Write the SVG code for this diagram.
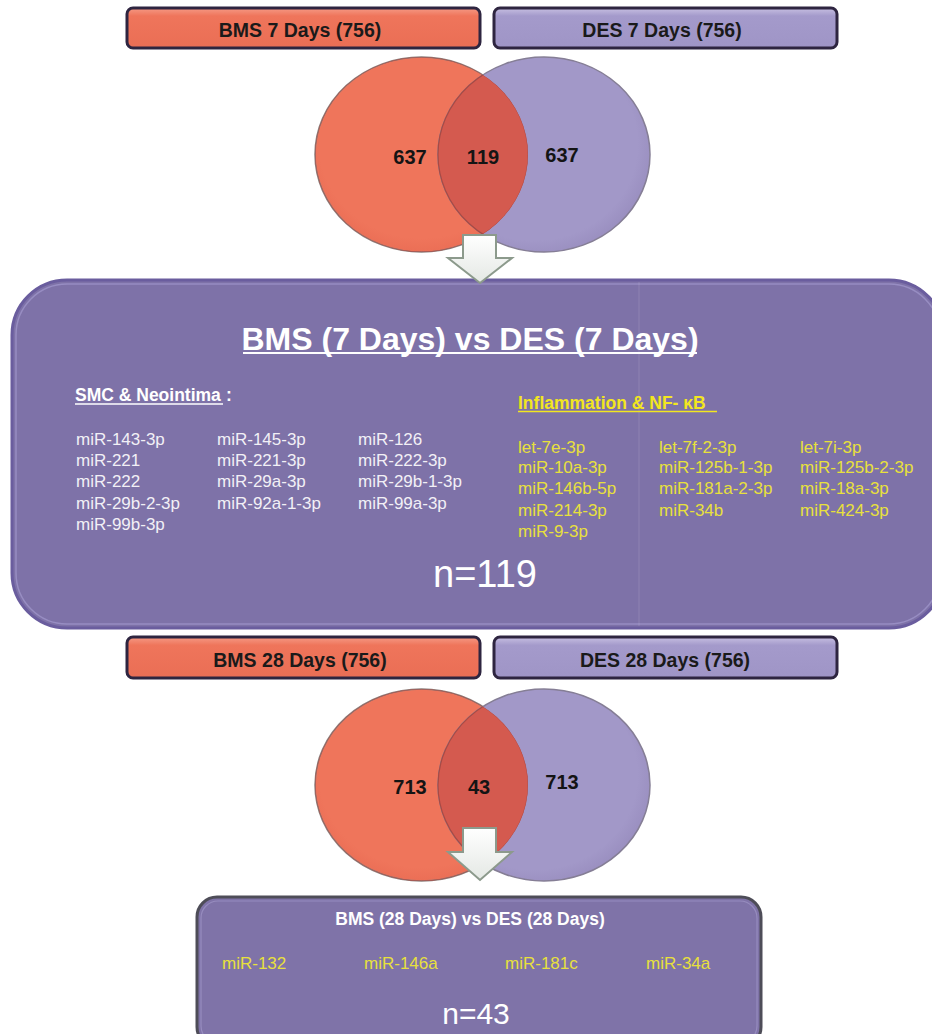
<svg xmlns="http://www.w3.org/2000/svg" width="932" height="1034" viewBox="0 0 932 1034">
  <defs>
    <style>
      .hdr { font-family: "Liberation Sans", Arial, sans-serif; font-weight: bold; font-size: 19.5px; fill: #1a1a1a; text-anchor: middle; }
      .num { font-family: "Liberation Sans", Arial, sans-serif; font-weight: bold; font-size: 20px; fill: #141414; text-anchor: middle; }
      .wt { font-family: "Liberation Sans", Arial, sans-serif; font-size: 17px; fill: #f2f0f6; }
      .yl { font-family: "Liberation Sans", Arial, sans-serif; font-size: 17px; fill: #e8e03c; }
      .sub { font-family: "Liberation Sans", Arial, sans-serif; font-weight: bold; font-size: 17.5px; }
      .big { font-family: "Liberation Sans", Arial, sans-serif; fill: #ffffff; text-anchor: middle; }
      .boxb { stroke: #2e2540; stroke-width: 3; }
    </style>
    <linearGradient id="gCoral" x1="0" y1="0" x2="0" y2="1">
      <stop offset="0" stop-color="#f59a86"/>
      <stop offset="0.2" stop-color="#ef755b"/>
      <stop offset="1" stop-color="#ea6e55"/>
    </linearGradient>
    <linearGradient id="gLav" x1="0" y1="0" x2="0" y2="1">
      <stop offset="0" stop-color="#c8c0e2"/>
      <stop offset="0.2" stop-color="#a49acb"/>
      <stop offset="1" stop-color="#9f95c6"/>
    </linearGradient>
    <radialGradient id="rCoral" cx="0.5" cy="0.45" r="0.6">
      <stop offset="0.8" stop-color="#ef755b"/>
      <stop offset="1" stop-color="#e86a52"/>
    </radialGradient>
    <radialGradient id="rLav" cx="0.45" cy="0.45" r="0.6">
      <stop offset="0.82" stop-color="#a298c8"/>
      <stop offset="0.95" stop-color="#9a8fc0"/>
      <stop offset="1" stop-color="#c6bfe0"/>
    </radialGradient>
    <linearGradient id="gArrow" x1="0" y1="0" x2="0" y2="1">
      <stop offset="0" stop-color="#ffffff"/>
      <stop offset="1" stop-color="#e4e8e4"/>
    </linearGradient>
    <clipPath id="clipL1"><ellipse cx="421.5" cy="154.5" rx="106.5" ry="97.5"/></clipPath>
    <clipPath id="clipL2"><ellipse cx="421.5" cy="785" rx="106.5" ry="96"/></clipPath>
  </defs>

  <rect width="932" height="1034" fill="#ffffff"/>

  <!-- 7-day header boxes -->
  <g id="bms7-label">
    <rect x="127" y="8" width="353" height="40" rx="6" fill="url(#gCoral)" class="boxb"/>
    <text x="300" y="37" class="hdr">BMS 7 Days (756)</text>
  </g>
  <g id="des7-label">
    <rect x="494" y="8" width="343" height="40" rx="6" fill="url(#gLav)" class="boxb"/>
    <text x="662" y="37" class="hdr">DES 7 Days (756)</text>
  </g>

  <!-- Venn 7 days -->
  <g id="venn7">
    <ellipse cx="421.5" cy="154.5" rx="106.5" ry="97.5" fill="url(#rCoral)" stroke="#8c7f7c" stroke-width="1.5"/>
    <ellipse cx="544" cy="154.5" rx="106" ry="97.5" fill="url(#rLav)" stroke="#857e95" stroke-width="1.5"/>
    <ellipse cx="544" cy="154.5" rx="106" ry="97.5" fill="#d45a4f" stroke="#a84a44" stroke-width="1.2" clip-path="url(#clipL1)"/>
    <ellipse cx="421.5" cy="154.5" rx="106.5" ry="97.5" fill="none" stroke="#b04c45" stroke-width="1" clip-path="url(#clipL1)"/>
    <text x="410" y="164" class="num">637</text>
    <text x="483" y="164" class="num">119</text>
    <text x="562" y="162" class="num">637</text>
  </g>

  <!-- Panel 7 days -->
  <g id="panel7">
    <rect x="12" y="280" width="932" height="348" rx="55" fill="#7e72a8" stroke="#6a5d9e" stroke-width="3"/>
    <rect x="16" y="284" width="924" height="340" rx="51" fill="none" stroke="#9d93c8" stroke-width="1.5" opacity="0.8"/>
    <line x1="639" y1="282" x2="639" y2="626" stroke="#ffffff" stroke-width="1" opacity="0.12"/>
    <text x="470" y="350" class="big" font-size="32" font-weight="bold">BMS (7 Days) vs DES (7 Days)</text>
    <line x1="243" y1="353" x2="697" y2="353" stroke="#ffffff" stroke-width="2"/>

    <text x="75" y="401" class="sub" fill="#ffffff">SMC &amp; Neointima</text>
    <text x="226" y="401" class="sub" fill="#ffffff" font-weight="normal">:</text>
    <line x1="75" y1="404" x2="223" y2="404" stroke="#ffffff" stroke-width="1.5"/>

    <text class="wt">
      <tspan x="76" y="445">miR-143-3p</tspan>
      <tspan x="76" y="466">miR-221</tspan>
      <tspan x="76" y="487">miR-222</tspan>
      <tspan x="76" y="509">miR-29b-2-3p</tspan>
      <tspan x="76" y="530">miR-99b-3p</tspan>
    </text>
    <text class="wt">
      <tspan x="217" y="445">miR-145-3p</tspan>
      <tspan x="217" y="466">miR-221-3p</tspan>
      <tspan x="217" y="487">miR-29a-3p</tspan>
      <tspan x="217" y="509">miR-92a-1-3p</tspan>
    </text>
    <text class="wt">
      <tspan x="358" y="445">miR-126</tspan>
      <tspan x="358" y="466">miR-222-3p</tspan>
      <tspan x="358" y="487">miR-29b-1-3p</tspan>
      <tspan x="358" y="509">miR-99a-3p</tspan>
    </text>

    <text x="518" y="409" class="sub" fill="#f2e620" font-size="17px">Inflammation &amp; NF- κB</text>
    <line x1="518" y1="411.5" x2="717" y2="411.5" stroke="#f2e620" stroke-width="1.5"/>

    <text class="yl">
      <tspan x="518" y="453">let-7e-3p</tspan>
      <tspan x="518" y="473">miR-10a-3p</tspan>
      <tspan x="518" y="494">miR-146b-5p</tspan>
      <tspan x="518" y="516">miR-214-3p</tspan>
      <tspan x="518" y="537">miR-9-3p</tspan>
    </text>
    <text class="yl">
      <tspan x="659" y="453">let-7f-2-3p</tspan>
      <tspan x="659" y="473">miR-125b-1-3p</tspan>
      <tspan x="659" y="494">miR-181a-2-3p</tspan>
      <tspan x="659" y="516">miR-34b</tspan>
    </text>
    <text class="yl">
      <tspan x="800" y="453">let-7i-3p</tspan>
      <tspan x="800" y="473">miR-125b-2-3p</tspan>
      <tspan x="800" y="494">miR-18a-3p</tspan>
      <tspan x="800" y="516">miR-424-3p</tspan>
    </text>

    <text x="485" y="587" class="big" font-size="38">n=119</text>
  </g>

  <!-- 28-day header boxes -->
  <g id="bms28-label">
    <rect x="127" y="637" width="353" height="41" rx="6" fill="url(#gCoral)" class="boxb"/>
    <text x="300" y="667" class="hdr">BMS 28 Days (756)</text>
  </g>
  <g id="des28-label">
    <rect x="494" y="637" width="343" height="41" rx="6" fill="url(#gLav)" class="boxb"/>
    <text x="665" y="667" class="hdr">DES 28 Days (756)</text>
  </g>

  <!-- Venn 28 days -->
  <g id="venn28">
    <ellipse cx="421.5" cy="785" rx="106.5" ry="96" fill="url(#rCoral)" stroke="#8c7f7c" stroke-width="1.5"/>
    <ellipse cx="544" cy="785" rx="106" ry="96" fill="url(#rLav)" stroke="#857e95" stroke-width="1.5"/>
    <ellipse cx="544" cy="785" rx="106" ry="96" fill="#d45a4f" stroke="#a84a44" stroke-width="1.2" clip-path="url(#clipL2)"/>
    <ellipse cx="421.5" cy="785" rx="106.5" ry="96" fill="none" stroke="#b04c45" stroke-width="1" clip-path="url(#clipL2)"/>
    <text x="410" y="794" class="num">713</text>
    <text x="479" y="794" class="num">43</text>
    <text x="562" y="789" class="num">713</text>
  </g>

  <!-- Panel 28 days -->
  <g id="panel28">
    <rect x="197" y="897" width="564" height="150" rx="20" fill="#7f73a8" stroke="#4e4d58" stroke-width="3"/>
    <rect x="201" y="901" width="556" height="142" rx="17" fill="none" stroke="#9c92c4" stroke-width="1.2" opacity="0.8"/>
    <text x="470" y="925" class="big" font-size="17.5" font-weight="bold">BMS (28 Days) vs DES (28 Days)</text>
    <text class="yl">
      <tspan x="222" y="969">miR-132</tspan>
      <tspan x="364" y="969">miR-146a</tspan>
      <tspan x="505" y="969">miR-181c</tspan>
      <tspan x="646" y="969">miR-34a</tspan>
    </text>
    <text x="476" y="1024" class="big" font-size="30">n=43</text>
  </g>

  <!-- Connectors (block arrows) -->
  <g id="connectors" fill="url(#gArrow)" stroke="#8c9a8c" stroke-width="2" stroke-linejoin="miter">
    <path d="M463,235 H496 V258 H512 L480,283 L448,258 H463 Z"/>
    <path d="M463,828 H496 V852 H512 L480,880 L448,852 H463 Z"/>
  </g>
</svg>
